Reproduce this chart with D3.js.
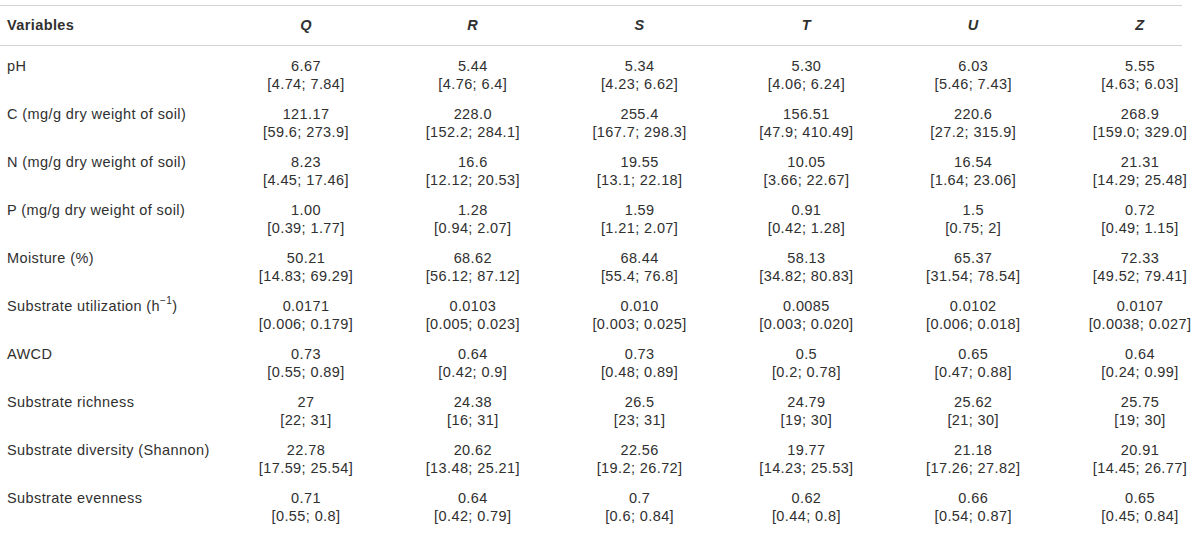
<!DOCTYPE html>
<html>
<head>
<meta charset="utf-8">
<script src="https://cdn.jsdelivr.net/npm/d3@7"></script>
<style>
  body { margin: 0; background: #fff; }
  svg text { font-family: "Liberation Sans", Arial, sans-serif; fill: #303030; letter-spacing: 0.4px; }
</style>
</head>
<body>
<svg id="table" width="1200" height="538"></svg>
<script>
// Table content
const columns = ["Q", "R", "S", "T", "U", "Z"];
const variables = [
    "pH",
    "C (mg/g dry weight of soil)",
    "N (mg/g dry weight of soil)",
    "P (mg/g dry weight of soil)",
    "Moisture (%)",
    "Substrate utilization (h^-1)",
    "AWCD",
    "Substrate richness",
    "Substrate diversity (Shannon)",
    "Substrate evenness"
];

// median per variable, one array per site column
const medianQ = ["6.67", "121.17", "8.23", "1.00", "50.21", "0.0171", "0.73", "27", "22.78", "0.71"];
const medianR = ["5.44", "228.0", "16.6", "1.28", "68.62", "0.0103", "0.64", "24.38", "20.62", "0.64"];
const medianS = ["5.34", "255.4", "19.55", "1.59", "68.44", "0.010", "0.73", "26.5", "22.56", "0.7"];
const medianT = ["5.30", "156.51", "10.05", "0.91", "58.13", "0.0085", "0.5", "24.79", "19.77", "0.62"];
const medianU = ["6.03", "220.6", "16.54", "1.5", "65.37", "0.0102", "0.65", "25.62", "21.18", "0.66"];
const medianZ = ["5.55", "268.9", "21.31", "0.72", "72.33", "0.0107", "0.64", "25.75", "20.91", "0.65"];

// [min; max] per variable
const rangeQ = ["4.74; 7.84", "59.6; 273.9", "4.45; 17.46", "0.39; 1.77", "14.83; 69.29", "0.006; 0.179", "0.55; 0.89", "22; 31", "17.59; 25.54", "0.55; 0.8"];
const rangeR = ["4.76; 6.4", "152.2; 284.1", "12.12; 20.53", "0.94; 2.07", "56.12; 87.12", "0.005; 0.023", "0.42; 0.9", "16; 31", "13.48; 25.21", "0.42; 0.79"];
const rangeS = ["4.23; 6.62", "167.7; 298.3", "13.1; 22.18", "1.21; 2.07", "55.4; 76.8", "0.003; 0.025", "0.48; 0.89", "23; 31", "19.2; 26.72", "0.6; 0.84"];
const rangeT = ["4.06; 6.24", "47.9; 410.49", "3.66; 22.67", "0.42; 1.28", "34.82; 80.83", "0.003; 0.020", "0.2; 0.78", "19; 30", "14.23; 25.53", "0.44; 0.8"];
const rangeU = ["5.46; 7.43", "27.2; 315.9", "1.64; 23.06", "0.75; 2", "31.54; 78.54", "0.006; 0.018", "0.47; 0.88", "21; 30", "17.26; 27.82", "0.54; 0.87"];
const rangeZ = ["4.63; 6.03", "159.0; 329.0", "14.29; 25.48", "0.49; 1.15", "49.52; 79.41", "0.0038; 0.027", "0.24; 0.99", "19; 30", "14.45; 26.77", "0.45; 0.84"];

const medians = [medianQ, medianR, medianS, medianT, medianU, medianZ];
const ranges = [rangeQ, rangeR, rangeS, rangeT, rangeU, rangeZ];

const cells = [];
columns.forEach((col, ci) => {
    variables.forEach((v, ri) => {
        cells.push({ col, variable: v, median: medians[ci][ri], range: ranges[ci][ri] });
    });
});

const svg = d3.select("#table");
const fontSize = 14.5;
const lineGap = 18;

// column centres spaced evenly from Q to Z
const x = d3.scalePoint()
    .domain(columns)
    .range([306, 1140]);

// first-line position of each row
const y = d3.scalePoint()
    .domain(variables)
    .range([66, 498]);

// rules
[5.5, 45.5].forEach(ry => {
    svg.append("line")
        .attr("x1", 0).attr("x2", 1182)
        .attr("y1", ry).attr("y2", ry)
        .attr("stroke", "#d2d2d2").attr("stroke-width", 1);
});

// header
svg.append("text")
    .attr("x", 7).attr("y", 25)
    .attr("dominant-baseline", "central")
    .attr("font-size", fontSize)
    .attr("font-weight", "bold")
    .text("Variables");

svg.selectAll("text.colhead")
    .data(columns)
    .join("text")
    .attr("class", "colhead")
    .attr("x", d => x(d))
    .attr("y", 25)
    .attr("text-anchor", "middle")
    .attr("dominant-baseline", "central")
    .attr("font-size", fontSize)
    .attr("font-weight", "bold")
    .attr("font-style", "italic")
    .text(d => d);

// row labels
const labels = svg.selectAll("text.rowlabel")
    .data(variables)
    .join("text")
    .attr("class", "rowlabel")
    .attr("x", 7)
    .attr("y", d => y(d))
    .attr("dominant-baseline", "central")
    .attr("font-size", fontSize);

labels.each(function(d) {
    const t = d3.select(this);
    if (d.includes("^")) {
        const [base, sup] = d.split("^");
        t.append("tspan").text(base);
        t.append("tspan").attr("dy", -6).attr("font-size", 10).text(sup.replace("-", "\u2212").replace(")", ""));
        t.append("tspan").attr("dy", 6).text(")");
    } else {
        t.text(d);
    }
});

// cell values
svg.selectAll("text.median")
    .data(cells)
    .join("text")
    .attr("class", "median")
    .attr("x", d => x(d.col))
    .attr("y", d => y(d.variable))
    .attr("text-anchor", "middle")
    .attr("dominant-baseline", "central")
    .attr("font-size", fontSize)
    .text(d => d.median);

svg.selectAll("text.range")
    .data(cells)
    .join("text")
    .attr("class", "range")
    .attr("x", d => x(d.col))
    .attr("y", d => y(d.variable) + lineGap)
    .attr("text-anchor", "middle")
    .attr("dominant-baseline", "central")
    .attr("font-size", fontSize)
    .text(d => "[" + d.range + "]");
</script>
</body>
</html>
